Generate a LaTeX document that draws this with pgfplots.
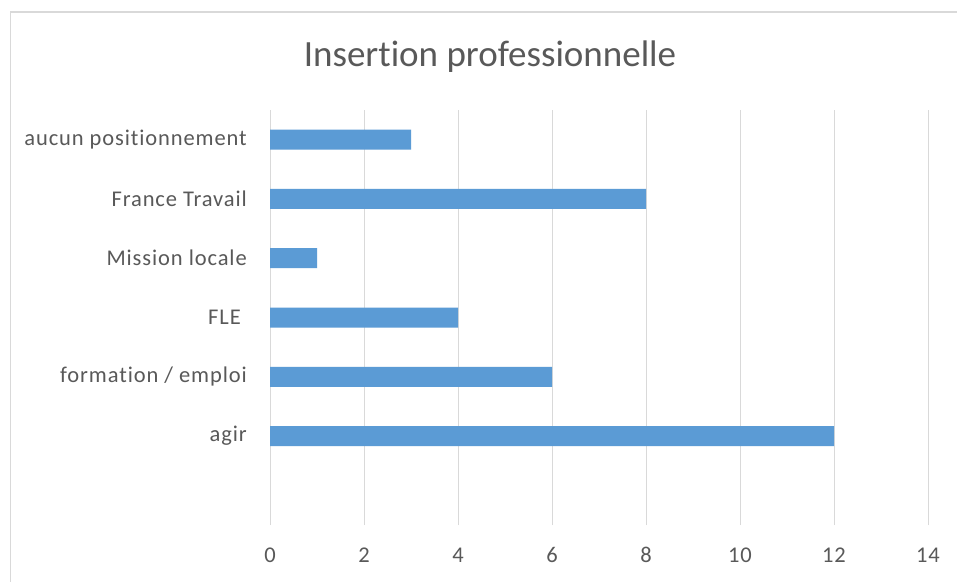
\documentclass[border=0pt]{standalone}
\usepackage{fontspec}
\setmainfont{Carlito}[Ligatures=NoCommon]
\newfontfamily\lblfont[LetterSpace=4,Ligatures=NoCommon]{Carlito}
\usepackage{pgfplots}
\pgfplotsset{compat=1.18}
\definecolor{barblue}{HTML}{5B9BD5}
\definecolor{gridgray}{HTML}{D9D9D9}
\definecolor{txtgray}{HTML}{595959}
\begin{document}
\begin{tikzpicture}[x=1pt,y=1pt]
\useasboundingbox (0,0) rectangle (957,581);
\clip (0,0) rectangle (957,581);
\fill[white] (0,0) rectangle (957,581);
\draw[gridgray, line width=1.3pt] (10.5,-20) rectangle (990,569);
\node[anchor=base, text=txtgray, inner sep=0pt, font=\fontsize{37}{44}\selectfont] at (490,514) {Insertion professionnelle};
\begin{axis}[
 at={(270pt,56pt)}, anchor=south west,
 scale only axis, width=658pt, height=415pt,
 xbar, bar width=20pt,
 xmin=0, xmax=14, ymin=-0.5, ymax=6.5,
 xtick={0,2,...,14},
 ytick={1,...,6},
 yticklabels={agir, formation / emploi, {FLE\kern6pt}, Mission locale, France Travail, aucun positionnement},
 axis line style={draw=none},
 major tick length=0pt,
 xmajorgrids, grid style={gridgray, line width=1pt},
 ticklabel style={text=txtgray, font=\lblfont\fontsize{22.5}{26}\selectfont},
 /pgf/number format/assume math mode=true,
 yticklabel style={anchor=east, inner sep=0pt, xshift=-23pt},
 xticklabel style={anchor=base, inner sep=0pt, yshift=-37pt},
]
\addplot[fill=barblue, draw=none] coordinates {(12,1) (6,2) (4,3) (1,4) (8,5) (3,6)};
\end{axis}
\end{tikzpicture}
\end{document}
